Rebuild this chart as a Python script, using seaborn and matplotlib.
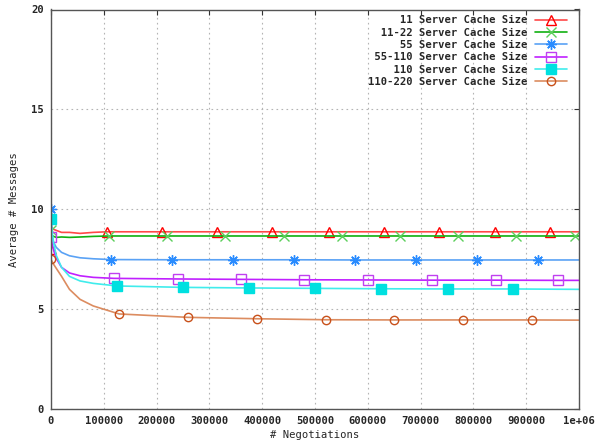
import matplotlib
matplotlib.use("Agg")
import matplotlib.pyplot as plt
import seaborn as sns
import pandas as pd

# x positions of the dense start-up samples (shared by every series)
early_x = [0, 2000, 5000, 10000, 20000, 35000, 55000, 80000]

# 11 Server Cache Size
red_early = [8.0, 9.1, 9.0, 8.95, 8.85, 8.85, 8.8, 8.85]
red_mx = [106000, 210000, 314000, 418000, 527000, 631000, 735000, 841000, 945000]
red_my = [8.88, 8.88, 8.88, 8.88, 8.88, 8.88, 8.88, 8.88, 8.88]
red_end = 8.88

# 11-22 Server Cache Size
green_early = [8.95, 8.7, 8.65, 8.6, 8.62, 8.6, 8.62, 8.65]
green_mx = [110000, 220000, 330000, 441000, 551000, 661000, 771000, 881000, 992000]
green_my = [8.67, 8.67, 8.67, 8.67, 8.67, 8.67, 8.67, 8.67, 8.67]
green_end = 8.67

# 55 Server Cache Size
blue_early = [10.0, 8.7, 8.35, 8.1, 7.85, 7.68, 7.58, 7.53]
blue_mx = [114000, 229000, 345000, 460000, 576000, 691000, 807000, 922000]
blue_my = [7.49, 7.48, 7.48, 7.48, 7.47, 7.47, 7.47, 7.47]
blue_end = 7.47

# 55-110 Server Cache Size
purple_early = [8.6, 8.3, 7.95, 7.55, 7.1, 6.82, 6.68, 6.6]
purple_mx = [119000, 240000, 360000, 479000, 600000, 721000, 842000, 960000]
purple_my = [6.55, 6.52, 6.5, 6.48, 6.47, 6.46, 6.46, 6.45]
purple_end = 6.45

# 110 Server Cache Size
cyan_early = [9.5, 8.9, 8.3, 7.7, 7.1, 6.65, 6.42, 6.3]
cyan_mx = [125000, 250000, 375000, 500000, 625000, 752000, 875000]
cyan_my = [6.17, 6.1, 6.07, 6.05, 6.03, 6.02, 6.02]
cyan_end = 6.0

# 110-220 Server Cache Size
orange_early = [7.5, 7.4, 7.25, 7.05, 6.65, 6.0, 5.5, 5.17]
orange_mx = [129000, 259000, 390000, 521000, 650000, 780000, 911000]
orange_my = [4.77, 4.6, 4.53, 4.48, 4.47, 4.47, 4.47]
orange_end = 4.46

labels = ["11 Server Cache Size", "11-22 Server Cache Size", "55 Server Cache Size",
          "55-110 Server Cache Size", "110 Server Cache Size", "110-220 Server Cache Size"]

x_ticks = [0, 100000, 200000, 300000, 400000, 500000, 600000, 700000, 800000, 900000, 1000000]
x_ticklabels = ["0", "100000", "200000", "300000", "400000", "500000",
                "600000", "700000", "800000", "900000", "1e+06"]
y_ticks = [0, 5, 10, 15, 20]

series = [
    (red_early, red_mx, red_my, red_end),
    (green_early, green_mx, green_my, green_end),
    (blue_early, blue_mx, blue_my, blue_end),
    (purple_early, purple_mx, purple_my, purple_end),
    (cyan_early, cyan_mx, cyan_my, cyan_end),
    (orange_early, orange_mx, orange_my, orange_end),
]

# styles: (line colour, marker, marker colour, filled, marker size)
styles = [
    ("#ff4848", "^", "#ff0000", False, 7.5),
    ("#10b010", "x", "#5ccf5c", False, 7),
    ("#5aa2f5", (8, 2, 0), "#2a8cff", False, 7.5),
    ("#c020ff", "s", "#c040f0", False, 7),
    ("#40ecec", "s", "#00e0e0", True, 6.5),
    ("#dc8c60", "o", "#c8501a", False, 6),
]

sns.set_style("white")
plt.rcParams["font.family"] = ["DejaVu Sans Mono", "DejaVu Sans"]
plt.rcParams["font.weight"] = "bold"
plt.rcParams["font.size"] = 7.6

fig = plt.figure(figsize=(5.98, 4.47), dpi=100)
ax = fig.add_axes([51 / 598, (447 - 409.3) / 447, 528 / 598, 399.8 / 447])

width = max(len(s) for s in labels)
for (early, mx, my, end), lab, (lc, mk, mc, filled, ms) in zip(series, labels, styles):
    df = pd.DataFrame({"x": early_x + mx + [1000000], "y": early + my + [end]})
    n0 = len(early_x)
    marks = [0] + list(range(n0, n0 + len(mx)))
    sns.lineplot(data=df, x="x", y="y", ax=ax, color=lc, lw=1.2, marker=mk,
                 markevery=marks, markersize=ms, markeredgecolor=mc,
                 markerfacecolor=mc if filled else "none", markeredgewidth=1.0,
                 label=lab.rjust(width), sort=False, estimator=None)

ax.set_xlim(0, 1000000)
ax.set_ylim(0, 20)
ax.set_xticks(x_ticks)
ax.set_xticklabels(x_ticklabels)
ax.set_yticks(y_ticks)
ax.set_xlabel("# Negotiations", labelpad=3)
ax.set_ylabel("Average # Messages", labelpad=9)
ax.grid(True, color="#b4b4b4", linestyle=(0, (1.5, 3)), linewidth=0.8)
ax.tick_params(direction="in", length=3.5, width=0.8, color="#333333",
               top=True, right=True, pad=5)
for sp in ax.spines.values():
    sp.set_color("#555555")
    sp.set_linewidth(1.0)

ax.legend(loc="upper right", bbox_to_anchor=(0.977, 0.985), frameon=False,
          markerfirst=False, handlelength=3.0, handletextpad=0.7,
          labelspacing=0.22, borderpad=0, borderaxespad=0,
          prop={"family": "DejaVu Sans Mono", "weight": "bold", "size": 7.6})

fig.savefig("out.png", dpi=100)
